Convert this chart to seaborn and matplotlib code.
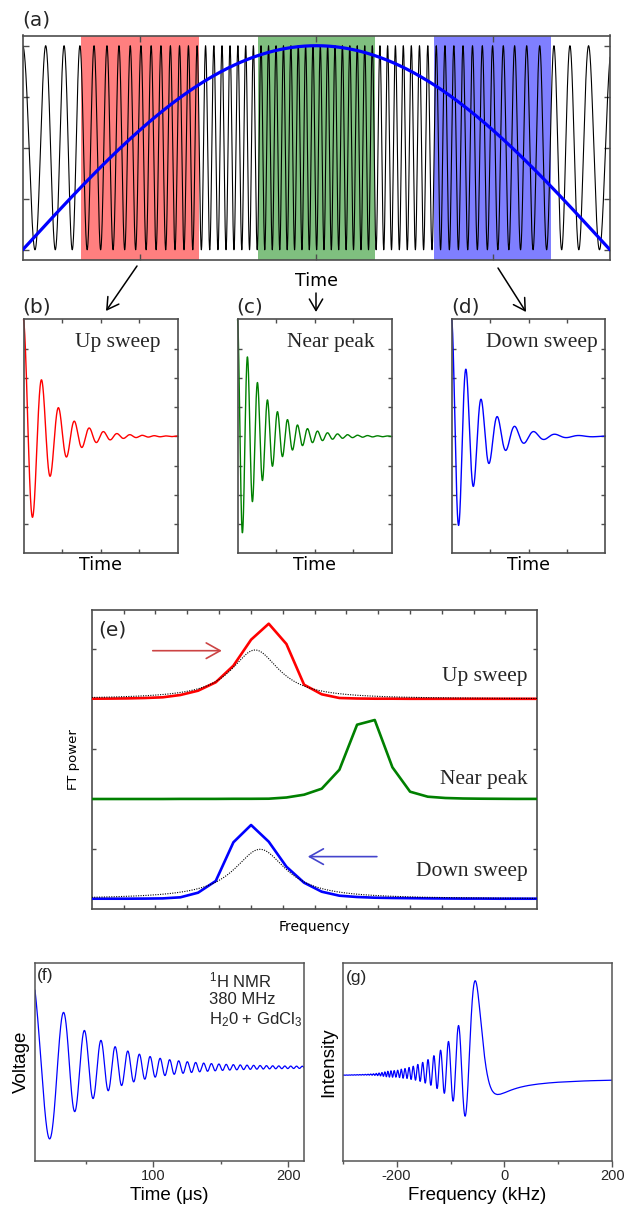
import numpy as np
import matplotlib
matplotlib.use("Agg")
import matplotlib.pyplot as plt
from matplotlib.patches import FancyArrowPatch
from matplotlib.ticker import FixedLocator, NullFormatter
import seaborn as sns

# ---------------------------------------------------------------- data
# (a) sinusoidal field sweep and the carrier it drives
sweep_range = [0.0, 10.0]
window_labels = ["Up sweep", "Near peak", "Down sweep"]
window_start = [1.0, 4.0, 7.0]
window_stop = [3.0, 6.0, 9.0]
window_colors = ["#ff0000", "#008000", "#0000ff"]
carrier_freq_min = 2.2      # cycles per time unit at the sweep ends
carrier_freq_gain = 5.8     # extra cycles per unit at the top of the sweep

# (b)-(d) ringing recorded inside each window (time in window widths)
ring_freq0 = [8.1, 15.4, 11.0]
ring_chirp = [5.9, 0.0, -6.2]
ring_decay = [6.2, 6.0, 6.0]

# (e) FT power per frequency bin, one trace per window
ft_bins = list(range(27))
ft_up = [0.003, 0.004, 0.006, 0.010, 0.017, 0.040, 0.083, 0.167, 0.333,
         0.593, 0.753, 0.550, 0.143, 0.047, 0.010, 0.005, 0.003, 0.003,
         0.002, 0.002, 0.002, 0.002, 0.002, 0.002, 0.002, 0.002, 0.002]
ft_peak = [0.000, 0.000, 0.000, 0.000, 0.000, 0.001, 0.001, 0.001, 0.002,
           0.002, 0.003, 0.015, 0.043, 0.103, 0.293, 0.743, 0.790, 0.317,
           0.073, 0.023, 0.010, 0.005, 0.003, 0.002, 0.001, 0.001, 0.001]
ft_down = [0.003, 0.003, 0.003, 0.004, 0.006, 0.017, 0.063, 0.180, 0.567,
           0.740, 0.573, 0.323, 0.163, 0.073, 0.033, 0.020, 0.013, 0.010,
           0.008, 0.006, 0.005, 0.004, 0.004, 0.003, 0.003, 0.003, 0.003]
ft_offset = [2.0, 1.0, 0.0]
lorentz_center = [9.23, 9.51]   # up sweep, down sweep
lorentz_height = [0.49, 0.497]
lorentz_width = [1.66, 1.8]

# (f) 1H FID at 380 MHz, H2O + GdCl3 (time in microseconds)
fid_window = [12.0, 212.0]
fid_freq_poly = [0.01268, 0.0013246, -1.246e-6]   # MHz, polynomial in t
fid_phase0 = 0.10                                  # cycles at first point
fid_t_ref = 23.0
fid_amp = [0.985, 0.015]
fid_tau = [38.0, 300.0]

# ---------------------------------------------------------------- style
sns.set_theme(style="white")
plt.rcParams["font.family"] = ["DejaVu Sans"]
plt.rcParams["axes.unicode_minus"] = False
plt.rcParams["mathtext.fontset"] = "custom"
plt.rcParams["mathtext.rm"] = "Liberation Sans"
plt.rcParams["mathtext.default"] = "regular"

SERIF = ["Liberation Serif", "DejaVu Serif"]
SANS = ["DejaVu Sans"]
ARIAL = ["Liberation Sans", "DejaVu Sans"]
FRAME = "#4d4d4d"

W, H = 626, 1211
fig = plt.figure(figsize=(W / 100, H / 100), dpi=100)


def place(l, t, r, b):
    return fig.add_axes([l / W, 1 - b / H, (r - l) / W, (b - t) / H])


def trace(ax, x, y, **kw):
    sns.lineplot(x=np.asarray(x), y=np.asarray(y), ax=ax, estimator=None,
                 sort=False, legend=False, **kw)


def frame(ax, color=FRAME, lw=1.2):
    for s in ax.spines.values():
        s.set_visible(True)
        s.set_color(color)
        s.set_linewidth(lw)


def boxed_ticks(ax, xt, yt, length):
    ax.xaxis.set_major_locator(FixedLocator(xt))
    ax.yaxis.set_major_locator(FixedLocator(yt))
    ax.xaxis.set_major_formatter(NullFormatter())
    ax.yaxis.set_major_formatter(NullFormatter())
    ax.tick_params(which="both", direction="in", length=length, width=1.0,
                   color=FRAME, top=True, right=True, bottom=True, left=True,
                   labelbottom=False, labelleft=False)


# ---------------------------------------------------------------- (a)
ax_a = place(22.7, 35.5, 610, 260)
x = np.linspace(sweep_range[0], sweep_range[1], 20001)
field = np.sin(np.pi * (x - sweep_range[0]) / (sweep_range[1] - sweep_range[0]))
inst_freq = carrier_freq_min + carrier_freq_gain * field
cycles = np.concatenate([[0.0], np.cumsum(0.5 * (inst_freq[1:] + inst_freq[:-1]) * np.diff(x))])
for s0, s1, c in zip(window_start, window_stop, window_colors):
    ax_a.axvspan(s0, s1, color=c, alpha=0.5, lw=0, zorder=0)
trace(ax_a, x, np.cos(2 * np.pi * cycles), color="black", linewidth=0.8, zorder=2)
trace(ax_a, x, 2 * field - 1, color="#0000ff", linewidth=2.3, zorder=3)
ax_a.set_xlim(*sweep_range)
ax_a.set_ylim(-1.1, 1.1)
frame(ax_a)
boxed_ticks(ax_a, [0.5 * (s0 + s1) for s0, s1 in zip(window_start, window_stop)],
            [-1, -0.5, 0, 0.5, 1], 4.3)
ax_a.set_xlabel("Time", fontsize=12.5, family=SANS, color="black", labelpad=9)
ax_a.set_ylabel("")
ax_a.text(0.0, 1.069, "(a)", transform=ax_a.transAxes, ha="left", va="center",
          fontsize=14.5, family=SANS)

# ---------------------------------------------------------------- (b)-(d)
ring_boxes = [(23.5, 177.7), (237.5, 391.7), (451.7, 605.3)]
ring_text_x = [0.89, 0.892, 0.95]
t = np.linspace(0, 1, 4001)
ring_axes = []
for k, (l, r) in enumerate(ring_boxes):
    ax = place(l, 319.3, r, 553.3)
    n_cyc = ring_freq0[k] * t + 0.5 * ring_chirp[k] * t ** 2
    y = np.exp(-ring_decay[k] * t) * np.cos(2 * np.pi * n_cyc)
    trace(ax, t, y, color=window_colors[k], linewidth=1.0, clip_on=False)
    ax.set_xlim(0, 1)
    ax.set_ylim(-1, 1)
    frame(ax)
    boxed_ticks(ax, [0.25, 0.5, 0.75], [-0.75, -0.5, -0.25, 0, 0.25, 0.5, 0.75], 3.0)
    ax.set_xlabel("Time", fontsize=12.5, family=SANS, color="black", labelpad=2)
    ax.set_ylabel("")
    ax.text(-0.005, 1.053, "(%s)" % "bcd"[k], transform=ax.transAxes,
            ha="left", va="center", fontsize=14.5, family=SANS)
    ax.text(ring_text_x[k], 0.899, window_labels[k], transform=ax.transAxes,
            ha="right", va="center", fontsize=15.5, family=SERIF)
    ring_axes.append(ax)

# arrows from the sweep windows down to each decay
arrow_paths = [((137, 266), (106, 311)), ((316, 293), (316, 312)), ((498, 268), (526, 312))]
for p0, p1 in arrow_paths:
    fig.add_artist(FancyArrowPatch((p0[0] / W, 1 - p0[1] / H), (p1[0] / W, 1 - p1[1] / H),
                                   transform=fig.transFigure, color="black", lw=1.1,
                                   arrowstyle="->,head_length=0.55,head_width=0.32",
                                   mutation_scale=15, shrinkA=0, shrinkB=0))

# ---------------------------------------------------------------- (e)
ax_e = place(91.7, 610, 537.3, 909.3)
bins = np.asarray(ft_bins, dtype=float)
fine = np.linspace(bins[0] - 0.1, bins[-1], 2000)
for k, vals in enumerate([ft_up, ft_peak, ft_down]):
    trace(ax_e, bins, np.asarray(vals) + ft_offset[k], color=window_colors[k], linewidth=1.9, zorder=3)
for k, off in zip(range(2), [ft_offset[0], ft_offset[2]]):
    lor = lorentz_height[k] / (1 + ((fine - lorentz_center[k]) / lorentz_width[k]) ** 2)
    trace(ax_e, fine, lor + off, color="black", linewidth=0.8,
          linestyle=(0, (1.0, 1.2)), zorder=4)
xlim_e = (-0.02, 25.2)
ax_e.set_xlim(*xlim_e)
ax_e.set_ylim(-0.103, 2.89)
frame(ax_e)
boxed_ticks(ax_e, list(np.linspace(xlim_e[0], xlim_e[1], 15)[1:-1]), [0.5, 1.5, 2.5], 3.0)
ax_e.set_xlabel("Frequency", fontsize=10, family=SANS, color="black", labelpad=8)
ax_e.set_ylabel("FT power", fontsize=9.5, family=SANS, color="black")
ax_e.yaxis.set_label_coords(-0.027, 0.5)
ax_e.text(0.015, 0.933, "(e)", transform=ax_e.transAxes, ha="left", va="center",
          fontsize=14.5, family=SANS)
ft_text_y = [0.777, 0.435, 0.126]
for k in range(3):
    ax_e.text(0.979, ft_text_y[k], window_labels[k], transform=ax_e.transAxes,
              ha="right", va="center", fontsize=15.5, family=SERIF)
ax_e.annotate("", xy=(0.292, 0.864), xytext=(0.137, 0.864), xycoords="axes fraction",
              arrowprops=dict(arrowstyle="->,head_length=0.5,head_width=0.28",
                              color="#cc4444", lw=1.2, mutation_scale=20,
                              shrinkA=0, shrinkB=0))
ax_e.annotate("", xy=(0.485, 0.176), xytext=(0.640, 0.176), xycoords="axes fraction",
              arrowprops=dict(arrowstyle="->,head_length=0.5,head_width=0.28",
                              color="#4444cc", lw=1.2, mutation_scale=20,
                              shrinkA=0, shrinkB=0))

# ---------------------------------------------------------------- (f)
dt = 0.05
tf = np.arange(fid_window[0], fid_window[1] + dt / 2, dt)
t0 = fid_window[0]
c0, c1, c2 = fid_freq_poly
fid_cycles = (fid_phase0 + c0 * (tf - t0) + c1 / 2 * (tf ** 2 - t0 ** 2)
              + c2 / 3 * (tf ** 3 - t0 ** 3))
envelope = (fid_amp[0] * np.exp(-(tf - fid_t_ref) / fid_tau[0])
            + fid_amp[1] * np.exp(-(tf - fid_t_ref) / fid_tau[1]))
fid = envelope * np.exp(-2j * np.pi * fid_cycles)

ax_f = place(35, 962.7, 304.3, 1161)
trace(ax_f, tf, fid.real, color="#0000ff", linewidth=0.9)
ax_f.set_xlim(*fid_window)
ax_f.set_ylim(-1.307, 1.459)

# ---------------------------------------------------------------- (g)
n_fft = 1 << 16
spec = np.fft.fftshift(np.fft.fft(fid, n_fft))
freq_khz = np.fft.fftshift(np.fft.fftfreq(n_fft, d=dt)) * 1e3
spec = spec * np.exp(-1j * np.angle(spec[np.argmax(np.abs(spec))]))
intensity = spec.real / spec.real.max()
keep = (freq_khz >= -305) & (freq_khz <= 205)

ax_g = place(342.7, 962.7, 612.3, 1161)
trace(ax_g, freq_khz[keep], intensity[keep], color="#0000ff", linewidth=0.9)
ax_g.set_xlim(-300, 200)
ax_g.set_ylim(-0.862, 1.186)

for ax, major, minor in [(ax_f, [100, 200], [50, 150]),
                         (ax_g, [-200, 0, 200], [-300, -100, 100])]:
    frame(ax, color="#555555", lw=1.1)
    ax.xaxis.set_major_locator(FixedLocator(major))
    ax.xaxis.set_minor_locator(FixedLocator(minor))
    ax.set_yticks([])
    ax.tick_params(axis="x", which="major", direction="out", length=4, width=1.0,
                   color="#555555", pad=2, labelsize=10.5, bottom=True, top=False)
    ax.tick_params(axis="x", which="minor", direction="out", length=2.5, width=1.0,
                   color="#555555", bottom=True, top=False)
    for lab in ax.get_xticklabels():
        lab.set_family(ARIAL)

ax_f.set_xlabel("Time (\u03bcs)", fontsize=13.5, family=ARIAL, color="black", labelpad=3)
ax_f.set_ylabel("Voltage", fontsize=13.5, family=ARIAL, color="black")
ax_f.yaxis.set_label_coords(-0.02, 0.5)
ax_g.set_xlabel("Frequency (kHz)", fontsize=13.5, family=ARIAL, color="black", labelpad=3)
ax_g.set_ylabel("Intensity", fontsize=13.5, family=ARIAL, color="black")
ax_g.yaxis.set_label_coords(-0.019, 0.5)

ax_f.text(0.008, 0.933, "(f)", transform=ax_f.transAxes, ha="left", va="center",
          fontsize=12.5, family=ARIAL)
ax_g.text(0.012, 0.923, "(g)", transform=ax_g.transAxes, ha="left", va="center",
          fontsize=12.5, family=ARIAL)
sample_lines = ["$^{1}$H NMR", "380 MHz", "H$_{2}$0 + GdCl$_{3}$"]
for txt, yy in zip(sample_lines, [0.913, 0.812, 0.711]):
    ax_f.text(0.646, yy, txt, transform=ax_f.transAxes, ha="left", va="center",
              fontsize=12, family=ARIAL)

fig.savefig("out.png", dpi=100)
